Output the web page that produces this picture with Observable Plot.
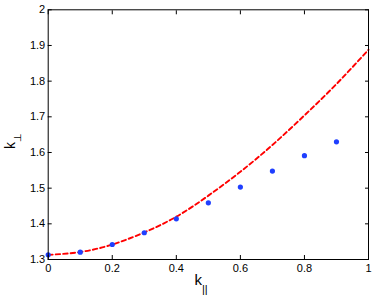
<!DOCTYPE html>
<html>
<head>
<meta charset="utf-8">
<script src="https://cdn.jsdelivr.net/npm/d3@7"></script>
<script src="https://cdn.jsdelivr.net/npm/@observablehq/plot@0.6"></script>
<style>
  html, body { margin: 0; padding: 0; background: white; }
</style>
</head>
<body>
<div id="chart"></div>
<script>
// Blue dots (measured)
const dotK = [0, 0.1, 0.2, 0.3, 0.4, 0.5, 0.6, 0.7, 0.8, 0.9];
const dotV = [1.313, 1.3205, 1.342, 1.375, 1.414, 1.459, 1.503, 1.548, 1.591, 1.630];
// Red dashed curve
const curveK = [0, 0.1, 0.2, 0.3, 0.4, 0.5, 0.6, 0.7, 0.8, 0.9, 1.0];
const curveV = [1.313, 1.321, 1.342, 1.376, 1.420, 1.479, 1.546, 1.621, 1.704, 1.792, 1.888];
// Tick values
const xTicks = [0, 0.2, 0.4, 0.6, 0.8, 1];
const yTicks = [1.3, 1.4, 1.5, 1.6, 1.7, 1.8, 1.9, 2];

const dots = dotK.map((k, i) => ({k, v: dotV[i]}));
const curve = curveK.map((k, i) => ({k, v: curveV[i]}));
const fmt = d => String(+d.toFixed(1));

const svg = Plot.plot({
  width: 374,
  height: 296,
  marginLeft: 47.7,
  marginRight: 6,
  marginTop: 9.3,
  marginBottom: 37,
  style: {fontFamily: "'Liberation Sans', Arial, Helvetica, sans-serif", fontSize: "11px", color: "black", background: "white"},
  x: {domain: [0, 1]},
  y: {domain: [1.3, 2]},
  marks: [
    Plot.line(curve, {x: "k", y: "v", stroke: "#ff0000", strokeWidth: 1.9, strokeDasharray: "4.5,3", curve: "natural"}),
    Plot.dot(dots, {x: "k", y: "v", r: 2.6, fill: "#1f3fff", stroke: "none"}),
    Plot.frame({stroke: "black", strokeWidth: 1}),
    Plot.axisX(xTicks, {anchor: "bottom", tickSize: -4, text: null, label: null}),
    Plot.axisX(xTicks, {anchor: "top", tickSize: -4, text: null, label: null}),
    Plot.axisY(yTicks, {anchor: "left", tickSize: -4, text: null, label: null}),
    Plot.axisY(yTicks, {anchor: "right", tickSize: -4, text: null, label: null}),
    Plot.axisX(xTicks, {anchor: "bottom", tickSize: 0, tickPadding: 5, tickFormat: fmt, label: null, fontSize: 11}),
    Plot.axisY(yTicks, {anchor: "left", tickSize: 0, tickPadding: 3, tickFormat: fmt, label: null, fontSize: 11})
  ]
});

const s = d3.select(svg);
const xl = s.append("text")
  .attr("x", 201).attr("y", 285)
  .attr("font-size", 15).attr("fill", "black");
xl.append("tspan").text("k");
xl.append("tspan").attr("dy", 8).attr("font-size", 11).text("||");

const yl = s.append("text")
  .attr("transform", "translate(15,141) rotate(-90)")
  .attr("font-size", 14).attr("fill", "black");
yl.append("tspan").text("k");
yl.append("tspan").attr("dy", 6).attr("font-size", 10).text("⊥");

document.getElementById("chart").appendChild(svg);
</script>
</body>
</html>
